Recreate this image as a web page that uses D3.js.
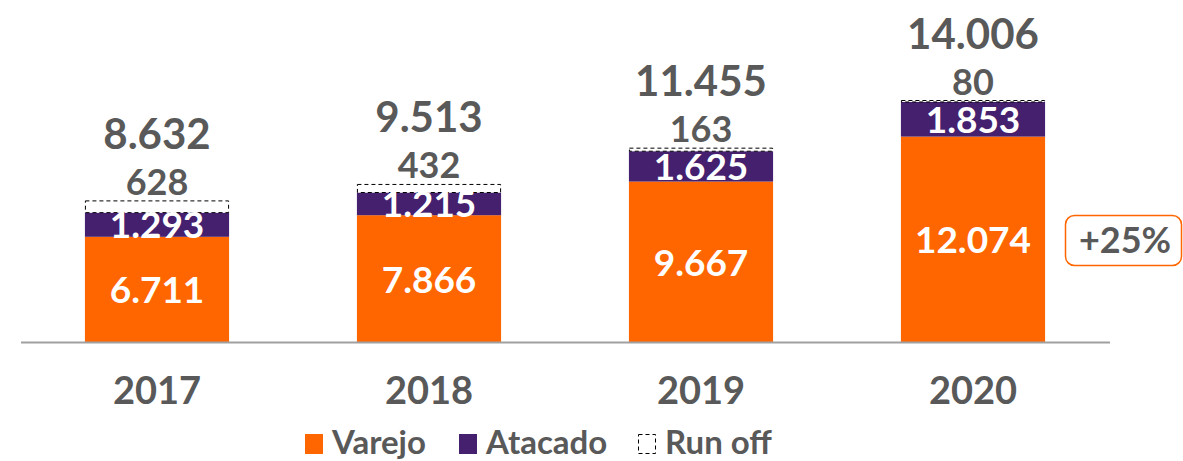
<!DOCTYPE html>
<html>
<head>
<meta charset="utf-8">
<script src="https://cdn.jsdelivr.net/npm/d3@7"></script>
<style>
  body { margin: 0; background: #fff; }
  text { font-family: Lato, "Open Sans", sans-serif; font-weight: bold; }
</style>
</head>
<body>
<svg id="chart" width="1183" height="461"></svg>
<script>
const years = ["2017", "2018", "2019", "2020"];
const varejo = [6711, 7866, 9667, 12074];
const atacado = [1293, 1215, 1625, 1853];
const runoff = [628, 432, 163, 80];
const totals = [8632, 9513, 11455, 14006];
const growthLabel = "+25%";

const orange = "#FF6600";
const purple = "#44206F";
const grey = "#595959";

const svg = d3.select("#chart");

const x = d3.scaleBand()
    .domain(years)
    .range([21, 1109])
    .paddingInner(0.47)
    .paddingOuter(0.235);

// axis in the source chart does not start at zero
const y = d3.scaleLinear()
    .domain([1080, 14006])
    .range([342, 100.5]);

const fmt = v => d3.format(",")(v).replace(/,/g, ".");

const data = years.map((yr, i) => ({
    year: yr,
    v: varejo[i],
    a: atacado[i],
    r: runoff[i],
    total: totals[i]
}));

const bars = svg.append("g");

// varejo
bars.selectAll(".varejo")
    .data(data)
    .enter().append("rect")
    .attr("x", d => x(d.year))
    .attr("width", x.bandwidth())
    .attr("y", d => y(d.v))
    .attr("height", d => y.range()[0] - y(d.v))
    .attr("fill", orange);

// atacado
bars.selectAll(".atacado")
    .data(data)
    .enter().append("rect")
    .attr("x", d => x(d.year))
    .attr("width", x.bandwidth())
    .attr("y", d => y(d.v + d.a))
    .attr("height", d => y(d.v) - y(d.v + d.a))
    .attr("fill", purple);

// run off (dashed outline)
bars.selectAll(".runoff")
    .data(data)
    .enter().append("rect")
    .attr("x", d => x(d.year) + 0.5)
    .attr("width", x.bandwidth() - 1)
    .attr("y", d => y(d.total))
    .attr("height", d => Math.max(1, y(d.v + d.a) - y(d.total)))
    .attr("fill", "#fff")
    .attr("stroke", "#000")
    .attr("stroke-width", 1)
    .attr("stroke-dasharray", "4,3");

// axis line
svg.append("line")
    .attr("x1", 21).attr("x2", 1110)
    .attr("y1", 342.5).attr("y2", 342.5)
    .attr("stroke", "#A0A0A0")
    .attr("stroke-width", 2);

const cx = d => x(d.year) + x.bandwidth() / 2;

// segment labels
svg.selectAll(".lblV")
    .data(data)
    .enter().append("text")
    .attr("x", cx)
    .attr("y", d => (y(d.v) + y.range()[0]) / 2 + 14)
    .attr("text-anchor", "middle")
    .attr("font-size", "37px")
    .attr("fill", "#fff")
    .text(d => fmt(d.v));

svg.selectAll(".lblA")
    .data(data)
    .enter().append("text")
    .attr("x", cx)
    .attr("y", d => (y(d.v) + y(d.v + d.a)) / 2 + 13.5)
    .attr("text-anchor", "middle")
    .attr("font-size", "37px")
    .attr("fill", "#fff")
    .text(d => fmt(d.a));

svg.selectAll(".lblR")
    .data(data)
    .enter().append("text")
    .attr("x", cx)
    .attr("y", d => y(d.total) - 6)
    .attr("text-anchor", "middle")
    .attr("font-size", "36px")
    .attr("fill", grey)
    .text(d => d.r);

svg.selectAll(".lblT")
    .data(data)
    .enter().append("text")
    .attr("x", cx)
    .attr("y", d => y(d.total) - 52)
    .attr("text-anchor", "middle")
    .attr("font-size", "42px")
    .attr("fill", grey)
    .text(d => fmt(d.total));

// year labels
svg.selectAll(".year")
    .data(data)
    .enter().append("text")
    .attr("x", cx)
    .attr("y", 404)
    .attr("text-anchor", "middle")
    .attr("font-size", "38px")
    .attr("fill", grey)
    .text(d => d.year);

// growth badge
svg.append("rect")
    .attr("x", 1065.5).attr("y", 215.5)
    .attr("width", 116).attr("height", 50)
    .attr("rx", 9)
    .attr("fill", "#fff")
    .attr("stroke", orange)
    .attr("stroke-width", 1.5);

svg.append("text")
    .attr("x", 1125).attr("y", 253)
    .attr("text-anchor", "middle")
    .attr("font-size", "36px")
    .attr("fill", grey)
    .text(growthLabel);

// legend
const legendItems = [
    { label: "Varejo", color: orange, x: 305 },
    { label: "Atacado", color: purple, x: 459 },
    { label: "Run off", color: null, x: 638 }
];

legendItems.forEach(item => {
    const g = svg.append("g").attr("transform", `translate(${item.x}, 434)`);
    if (item.color) {
        g.append("rect")
            .attr("width", 18).attr("height", 20)
            .attr("fill", item.color);
    } else {
        g.append("rect")
            .attr("x", 0.5).attr("y", 0.5)
            .attr("width", 17).attr("height", 19)
            .attr("fill", "none")
            .attr("stroke", "#000")
            .attr("stroke-width", 1)
            .attr("stroke-dasharray", "4,3");
    }
    g.append("text")
        .attr("x", 27)
        .attr("y", 20)
        .attr("font-size", "33px")
        .attr("fill", grey)
        .text(item.label);
});
</script>
</body>
</html>
